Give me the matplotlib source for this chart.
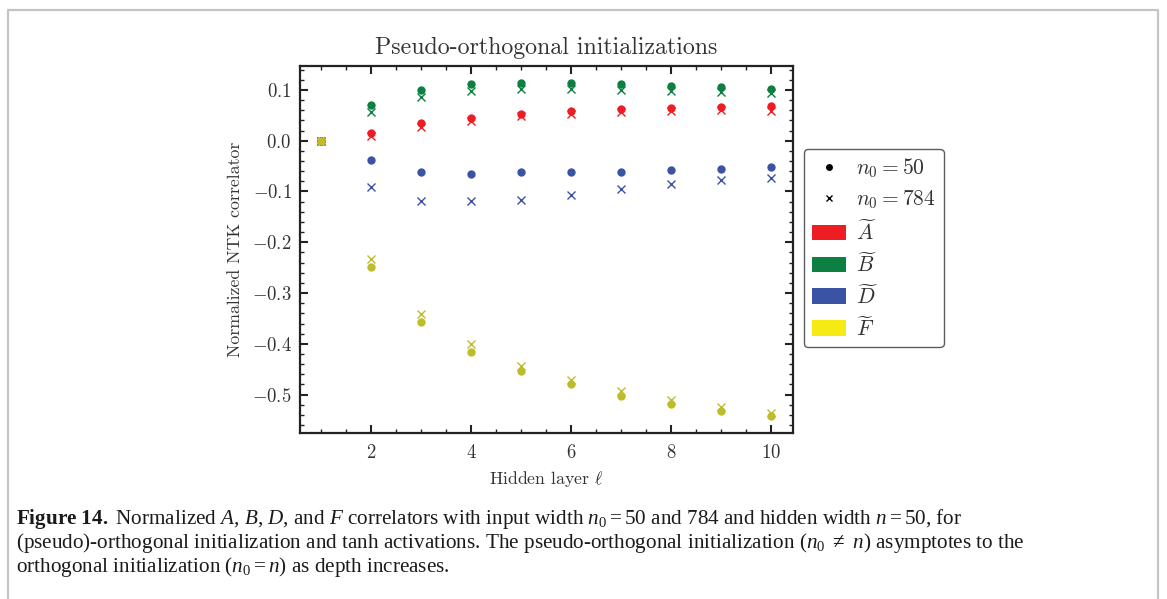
import matplotlib
matplotlib.use("Agg")
import matplotlib.pyplot as plt
from matplotlib.lines import Line2D
from matplotlib.patches import Patch

# hidden layers
layers = [1, 2, 3, 4, 5, 6, 7, 8, 9, 10]

# normalized correlators, n0 = 50 (dots)
a_50 = [0.0, 0.016, 0.034, 0.045, 0.052, 0.058, 0.062, 0.064, 0.066, 0.068]
b_50 = [0.0, 0.070, 0.100, 0.111, 0.114, 0.114, 0.112, 0.108, 0.105, 0.102]
d_50 = [0.0, -0.038, -0.061, -0.066, -0.061, -0.061, -0.062, -0.058, -0.056, -0.052]
f_50 = [0.0, -0.249, -0.357, -0.416, -0.453, -0.480, -0.502, -0.518, -0.532, -0.542]

# normalized correlators, n0 = 784 (crosses)
a_784 = [0.0, 0.010, 0.026, 0.038, 0.049, 0.053, 0.057, 0.059, 0.060, 0.059]
b_784 = [0.0, 0.057, 0.086, 0.097, 0.101, 0.102, 0.100, 0.097, 0.095, 0.093]
d_784 = [0.0, -0.091, -0.118, -0.118, -0.116, -0.106, -0.095, -0.086, -0.078, -0.073]
f_784 = [0.0, -0.232, -0.341, -0.401, -0.443, -0.472, -0.493, -0.511, -0.524, -0.536]

series_names = [r"$\widetilde{A}$", r"$\widetilde{B}$", r"$\widetilde{D}$", r"$\widetilde{F}$"]
marker_colors = ["#ee1d23", "#0b8040", "#3a53a4", "#bdbc2a"]
patch_colors = ["#ee1d23", "#0b8040", "#3a53a4", "#f5ea14"]

plt.rcParams["font.family"] = "serif"
plt.rcParams["font.serif"] = ["cmr10"]
plt.rcParams["mathtext.fontset"] = "cm"
plt.rcParams["axes.formatter.use_mathtext"] = True
# caption uses a Times-like face through the custom math set
plt.rcParams["mathtext.rm"] = "Liberation Serif"
plt.rcParams["mathtext.it"] = "Liberation Serif:italic"
plt.rcParams["mathtext.bf"] = "Liberation Serif:bold"

txt = "#333333"

fig = plt.figure(figsize=(11.67, 5.99), dpi=100)
ax = fig.add_axes([0.2571, 0.2776, 0.4225, 0.6122])

for ys, yc, c in zip([a_50, b_50, d_50, f_50], [a_784, b_784, d_784, f_784], marker_colors):
    ax.plot(layers, ys, "o", color=c, ms=6, mew=0, zorder=3)
    ax.plot(layers, yc, "x", color=c, ms=6, mew=1.0, zorder=3)

ax.set_xlim(0.57, 10.45)
ax.set_ylim(-0.575, 0.147)
ax.set_xticks([2, 4, 6, 8, 10])
ax.set_xticks([x / 2 for x in range(2, 21)], minor=True)
ax.set_yticks([-0.5, -0.4, -0.3, -0.2, -0.1, 0.0, 0.1])
ax.set_yticks([y / 50 for y in range(-28, 8)], minor=True)
ax.set_yticklabels([r"$-0.5$", r"$-0.4$", r"$-0.3$", r"$-0.2$", r"$-0.1$", r"$0.0$", r"$0.1$"])
ax.set_xticklabels([r"$2$", r"$4$", r"$6$", r"$8$", r"$10$"])
ax.tick_params(which="both", direction="in", top=True, right=True, width=1.5, colors="#222222",
               labelcolor=txt, labelsize=13.5, pad=6)
ax.tick_params(axis="x", which="both", pad=8)
ax.tick_params(which="major", length=6)
ax.tick_params(which="minor", length=3, width=1.0)
for s in ax.spines.values():
    s.set_linewidth(1.6)
    s.set_color("#222222")

ax.set_title("Pseudo-orthogonal initializations", fontsize=17.2, color=txt, pad=9)
ax.set_xlabel(r"Hidden layer $\ell$", fontsize=12.8, color=txt, labelpad=5)
ax.set_ylabel("Normalized NTK correlator", fontsize=12.8, color=txt, labelpad=6)

handles = [
    Line2D([], [], ls="none", marker="o", color="black", ms=5, mew=0),
    Line2D([], [], ls="none", marker="x", color="black", ms=4.5, mew=1.0),
]
handles += [Patch(facecolor=c, edgecolor="none") for c in patch_colors]
labels = [r"$n_0 = 50$", r"$n_0 = 784$"] + series_names
leg = fig.legend(handles, labels, loc="upper left", bbox_to_anchor=(0.689, 0.751),
                 fontsize=15.5, frameon=True, fancybox=True, handlelength=1.58,
                 handleheight=0.75, labelspacing=0.38, borderpad=0.35, handletextpad=0.5,
                 borderaxespad=0.0, labelcolor=txt)
leg.get_frame().set_edgecolor("#333333")
leg.get_frame().set_linewidth(1.0)

# page border (open at the bottom)
fig.add_artist(Line2D([8 / 1167, 8 / 1167, 1158 / 1167, 1158 / 1167],
                      [0, 1 - 9.5 / 599, 1 - 9.5 / 599, 0],
                      transform=fig.transFigure, color="#c4c4c4", lw=1.6))

cap_lines = [
    r"$\mathbf{Figure\ 14.}$ Normalized $A$, $B$, $D$, and $F$ correlators with input width "
    r"$n_0 = 50$ and 784 and hidden width $n = 50$, for",
    r"(pseudo)-orthogonal initialization and tanh activations. The pseudo-orthogonal initialization "
    r"($n_0\ \neq\ n$) asymptotes to the",
    r"orthogonal initialization ($n_0 = n$) as depth increases.",
]
for i, line in enumerate(cap_lines):
    fig.text(16 / 1167, 1 - (524 + 24 * i) / 599, line, family="Liberation Serif",
             fontsize=15.2, color="#1a1a1a", math_fontfamily="custom", va="baseline")

fig.savefig("out.png", dpi=100)
